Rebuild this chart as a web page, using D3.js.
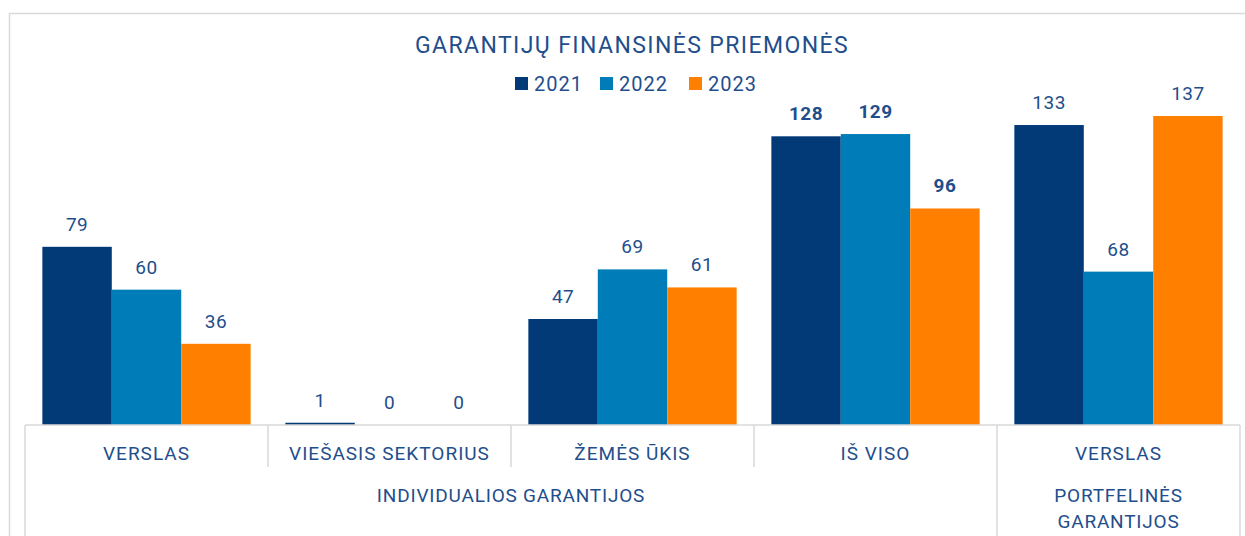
<!DOCTYPE html>
<html>
<head>
<meta charset="utf-8">
<script src="https://cdn.jsdelivr.net/npm/d3@7"></script>
<style>
  body { margin: 0; background: #fff; }
  text { font-family: Roboto, "Noto Sans", sans-serif; fill: #1f4e8c; }
</style>
</head>
<body>
<div id="viz"></div>
<script>
// chart data
var title = "GARANTIJŲ FINANSINĖS PRIEMONĖS";
var years = ["2021", "2022", "2023"];
var colors = ["#023a78", "#007db8", "#ff8000"];
var categories = ["VERSLAS", "VIEŠASIS SEKTORIUS", "ŽEMĖS ŪKIS", "IŠ VISO", "VERSLAS"];
var values2021 = [79, 1, 47, 128, 133];
var values2022 = [60, 0, 69, 129, 68];
var values2023 = [36, 0, 61, 96, 137];
var boldCategory = 3;
var groupLabels = [["INDIVIDUALIOS GARANTIJOS"], ["PORTFELINĖS", "GARANTIJOS"]];
var groupStart = [0, 4];
var groupEnd = [3, 4];

var width = 1245, height = 536;
var axisY = 425;

var svg = d3.select("#viz").append("svg")
  .attr("width", width)
  .attr("height", height);

// outer frame
svg.append("rect")
  .attr("x", 9.5).attr("y", 13.5)
  .attr("width", 1300).attr("height", 600)
  .attr("fill", "none")
  .attr("stroke", "#d9d9d9")
  .attr("stroke-width", 1.5);

var x0 = d3.scaleBand()
  .domain(d3.range(categories.length))
  .range([25, 1240]);

var x1 = d3.scaleBand()
  .domain(years)
  .range([0, x0.bandwidth()])
  .paddingOuter(0.25);

var y = d3.scaleLinear()
  .domain([0, 137])
  .range([axisY, 116]);

var series = [values2021, values2022, values2023];
var rows = categories.map(function(c, i) {
  return years.map(function(yr, j) {
    return { cat: i, year: yr, color: colors[j], value: series[j][i] };
  });
});

var groups = svg.selectAll(".cat")
  .data(rows)
  .join("g")
  .attr("class", "cat")
  .attr("transform", function(d, i) { return "translate(" + x0(i) + ",0)"; });

groups.selectAll("rect")
  .data(function(d) { return d; })
  .join("rect")
  .attr("x", function(d) { return x1(d.year); })
  .attr("width", x1.bandwidth())
  .attr("y", function(d) { return y(d.value); })
  .attr("height", function(d) { return axisY - y(d.value); })
  .attr("fill", function(d) { return d.color; });

groups.selectAll(".val")
  .data(function(d) { return d; })
  .join("text")
  .attr("class", "val")
  .attr("x", function(d) { return x1(d.year) + x1.bandwidth() / 2; })
  .attr("y", function(d) { return y(d.value) - 16; })
  .attr("text-anchor", "middle")
  .style("font-size", "19px")
  .style("letter-spacing", "0.5px")
  .style("font-weight", function(d) { return d.cat === boldCategory ? "bold" : "normal"; })
  .text(function(d) { return d.value; });

// axis line and separators
var grid = "#d9d9d9";
svg.append("line")
  .attr("x1", x0(0)).attr("x2", x0.range()[1])
  .attr("y1", axisY).attr("y2", axisY)
  .attr("stroke", grid).attr("stroke-width", 1.5);

var edges = d3.range(categories.length + 1).map(function(i) {
  return i < categories.length ? x0(i) : x0.range()[1];
});
svg.selectAll(".sep")
  .data(edges)
  .join("line")
  .attr("class", "sep")
  .attr("x1", function(d) { return d; })
  .attr("x2", function(d) { return d; })
  .attr("y1", axisY)
  .attr("y2", function(d, i) {
    var full = i === 0 || i === categories.length || groupStart.indexOf(i) >= 0;
    return full ? height : 467;
  })
  .attr("stroke", grid).attr("stroke-width", 1.5);

// category labels
svg.selectAll(".catlabel")
  .data(categories)
  .join("text")
  .attr("class", "catlabel")
  .attr("x", function(d, i) { return x0(i) + x0.bandwidth() / 2; })
  .attr("y", 460)
  .attr("text-anchor", "middle")
  .style("font-size", "19px")
  .style("letter-spacing", "1px")
  .text(function(d) { return d; });

// group labels
groupLabels.forEach(function(lines, g) {
  var cx = (x0(groupStart[g]) + x0(groupEnd[g]) + x0.bandwidth()) / 2;
  var t = svg.append("text")
    .attr("text-anchor", "middle")
    .attr("y", 502)
    .style("font-size", "19px")
    .style("letter-spacing", "0.8px");
  lines.forEach(function(l, k) {
    t.append("tspan").attr("x", cx).attr("dy", k ? 26 : 0).text(l);
  });
});

// title
svg.append("text")
  .attr("x", 632).attr("y", 53)
  .attr("text-anchor", "middle")
  .style("font-size", "23px")
  .style("letter-spacing", "1.4px")
  .text(title);

// legend
var legendX = [515, 600, 689];
var legend = svg.selectAll(".leg")
  .data(years)
  .join("g")
  .attr("class", "leg")
  .attr("transform", function(d, i) { return "translate(" + legendX[i] + ",77)"; });
legend.append("rect")
  .attr("width", 13).attr("height", 13)
  .attr("fill", function(d, i) { return colors[i]; });
legend.append("text")
  .attr("x", 19).attr("y", 14)
  .style("font-size", "20px")
  .style("letter-spacing", "1px")
  .text(function(d) { return d; });
</script>
</body>
</html>
